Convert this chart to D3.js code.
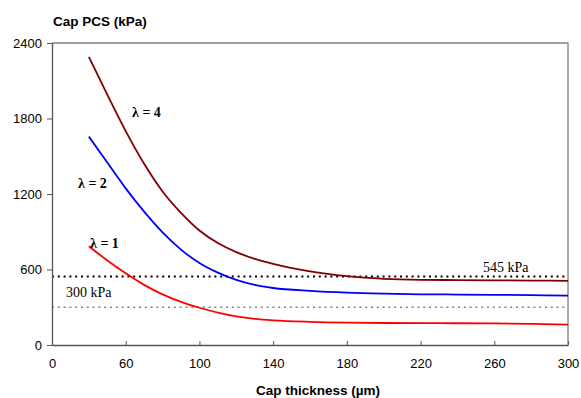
<!DOCTYPE html>
<html>
<head>
<meta charset="utf-8">
<script src="https://cdn.jsdelivr.net/npm/d3@7"></script>
<style>
  html, body { margin: 0; padding: 0; background: #fff; }
  svg { display: block; }
</style>
</head>
<body>
<svg id="chart" width="581" height="398"></svg>
<script>
// ---- data ----
const thickness = [40, 50, 60, 70, 80, 90, 100, 110, 120, 130, 140, 160, 180, 200, 220, 240, 260, 280, 300];
const pcsLambda4 = [2290, 1990, 1700, 1440, 1220, 1050, 910, 810, 738, 685, 645, 585, 547, 526, 518, 516, 514, 512, 510];
const pcsLambda2 = [1656, 1450, 1245, 1060, 895, 758, 652, 575, 517, 477, 453, 430, 416, 408, 403, 401, 399, 396, 392];
const pcsLambda1 = [785, 672, 570, 478, 402, 342, 296, 258, 228, 208, 196, 184, 178, 175, 174, 173, 172, 168, 162];
const seriesNames = ["λ = 4", "λ = 2", "λ = 1"];
const thresholdValues = [545, 300];
const thresholdLabels = ["545 kPa", "300 kPa"];
const xTickValues = [20, 60, 100, 140, 180, 220, 260, 300];
const xTickLabels = ["0", "60", "100", "140", "180", "220", "260", "300"];
const yTickValues = [0, 600, 1200, 1800, 2400];

// ---- layout ----
const svg = d3.select("#chart");
const mLeft = 52, mRight = 568, mTop = 43, mBottom = 345;

const x = d3.scaleLinear().domain([20, 300]).range([mLeft, mRight]);
const y = d3.scaleLinear().domain([0, 2400]).range([mBottom, mTop]);

// plot border (top & right)
svg.append("path")
  .attr("d", `M${mLeft},${mTop}H${mRight}V${mBottom}`)
  .attr("fill", "none").attr("stroke", "#808080").attr("stroke-width", 1.3);

// threshold dotted lines
const thrStyles = [
  {color: "#000", width: 2, dash: "2,3.8"},
  {color: "#808080", width: 1.6, dash: "2,3.8"}
];
thresholdValues.forEach((v, i) => {
  svg.append("line")
    .attr("x1", mLeft).attr("x2", mRight)
    .attr("y1", y(v)).attr("y2", y(v))
    .attr("stroke", thrStyles[i].color)
    .attr("stroke-width", thrStyles[i].width)
    .attr("stroke-dasharray", thrStyles[i].dash);
});

// axes
const xAxis = d3.axisBottom(x).tickValues(xTickValues)
  .tickFormat((d, i) => xTickLabels[i]).tickSizeInner(-4).tickSizeOuter(0).tickPadding(14);
const gx = svg.append("g").attr("transform", `translate(0,${mBottom})`).call(xAxis);

const yAxis = d3.axisLeft(y).tickValues(yTickValues)
  .tickFormat(d3.format("d")).tickSizeInner(5).tickSizeOuter(0).tickPadding(5);
const gy = svg.append("g").attr("transform", `translate(${mLeft},0)`).call(yAxis);

[gx, gy].forEach(g => {
  g.selectAll("path").attr("stroke", "#555").attr("stroke-width", 1.3);
  g.selectAll("line").attr("stroke", "#555").attr("stroke-width", 1);
  g.selectAll("text").attr("font-family", "Liberation Sans, Arial, sans-serif")
    .attr("font-size", 13).attr("fill", "#000");
});

// curves
const seriesData = [pcsLambda4, pcsLambda2, pcsLambda1];
const colors = ["#800000", "#0000FF", "#FF0000"];
const line = d3.line()
  .x((d, i) => x(thickness[i]))
  .y(d => y(d))
  .curve(d3.curveMonotoneX);

seriesData.forEach((s, k) => {
  svg.append("path").datum(s)
    .attr("d", line)
    .attr("fill", "none")
    .attr("stroke", colors[k])
    .attr("stroke-width", 1.8);
});

// series labels
const serif = "Liberation Serif, Times New Roman, serif";
const labelPos = [[132, 117], [78, 188], [90, 248]];
seriesNames.forEach((n, k) => {
  svg.append("text").attr("x", labelPos[k][0]).attr("y", labelPos[k][1])
    .attr("font-family", serif).attr("font-weight", "bold")
    .attr("font-size", 14).attr("fill", "#000").text(n);
});

// threshold labels
const thrLabelPos = [[483, 272], [66, 297]];
thresholdLabels.forEach((t, i) => {
  svg.append("text").attr("x", thrLabelPos[i][0]).attr("y", thrLabelPos[i][1])
    .attr("font-family", serif).attr("font-size", 14).attr("fill", "#000").text(t);
});

// axis titles
svg.append("text").attr("x", 53).attr("y", 26)
  .attr("font-family", "Liberation Sans, Arial, sans-serif").attr("font-weight", "bold")
  .attr("font-size", 13.5).attr("fill", "#000").text("Cap PCS (kPa)");
svg.append("text").attr("x", 318).attr("y", 395).attr("text-anchor", "middle")
  .attr("font-family", "Liberation Sans, Arial, sans-serif").attr("font-weight", "bold")
  .attr("font-size", 13.5).attr("fill", "#000").text("Cap thickness (µm)");
</script>
</body>
</html>
